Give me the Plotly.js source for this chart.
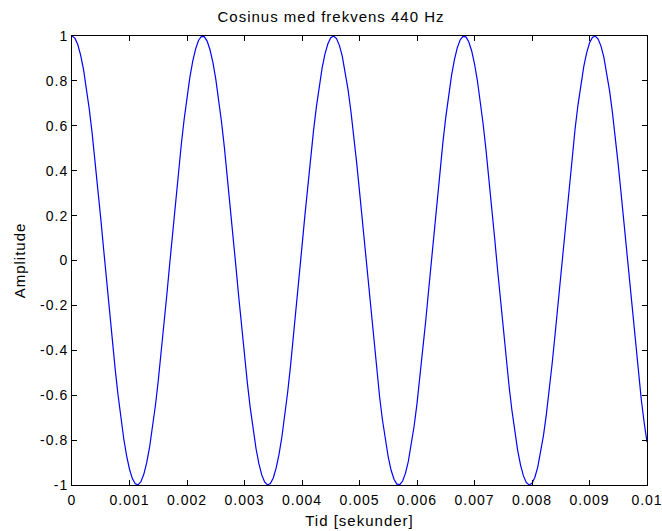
<!DOCTYPE html>
<html>
<head>
<meta charset="utf-8">
<script src="https://cdn.plot.ly/plotly-3.0.1.min.js"></script>
<style>
html,body{margin:0;padding:0;background:#fff;}
#chart{width:662px;height:531px;}
#chart text{letter-spacing:1px;}
</style>
</head>
<body>
<div id="chart"></div>
<script>
// Time samples (seconds), every 0.00005 s
const timeSec = [
0.00000,0.00005,0.00010,0.00015,0.00020,0.00025,0.00030,0.00035,0.00040,0.00045,
0.00050,0.00055,0.00060,0.00065,0.00070,0.00075,0.00080,0.00085,0.00090,0.00095,
0.00100,0.00105,0.00110,0.00115,0.00120,0.00125,0.00130,0.00135,0.00140,0.00145,
0.00150,0.00155,0.00160,0.00165,0.00170,0.00175,0.00180,0.00185,0.00190,0.00195,
0.00200,0.00205,0.00210,0.00215,0.00220,0.00225,0.00230,0.00235,0.00240,0.00245,
0.00250,0.00255,0.00260,0.00265,0.00270,0.00275,0.00280,0.00285,0.00290,0.00295,
0.00300,0.00305,0.00310,0.00315,0.00320,0.00325,0.00330,0.00335,0.00340,0.00345,
0.00350,0.00355,0.00360,0.00365,0.00370,0.00375,0.00380,0.00385,0.00390,0.00395,
0.00400,0.00405,0.00410,0.00415,0.00420,0.00425,0.00430,0.00435,0.00440,0.00445,
0.00450,0.00455,0.00460,0.00465,0.00470,0.00475,0.00480,0.00485,0.00490,0.00495,
0.00500,0.00505,0.00510,0.00515,0.00520,0.00525,0.00530,0.00535,0.00540,0.00545,
0.00550,0.00555,0.00560,0.00565,0.00570,0.00575,0.00580,0.00585,0.00590,0.00595,
0.00600,0.00605,0.00610,0.00615,0.00620,0.00625,0.00630,0.00635,0.00640,0.00645,
0.00650,0.00655,0.00660,0.00665,0.00670,0.00675,0.00680,0.00685,0.00690,0.00695,
0.00700,0.00705,0.00710,0.00715,0.00720,0.00725,0.00730,0.00735,0.00740,0.00745,
0.00750,0.00755,0.00760,0.00765,0.00770,0.00775,0.00780,0.00785,0.00790,0.00795,
0.00800,0.00805,0.00810,0.00815,0.00820,0.00825,0.00830,0.00835,0.00840,0.00845,
0.00850,0.00855,0.00860,0.00865,0.00870,0.00875,0.00880,0.00885,0.00890,0.00895,
0.00900,0.00905,0.00910,0.00915,0.00920,0.00925,0.00930,0.00935,0.00940,0.00945,
0.00950,0.00955,0.00960,0.00965,0.00970,0.00975,0.00980,0.00985,0.00990,0.00995,
0.01000
];
// Amplitude values
const amplitude = [
1.0000,0.9905,0.9620,0.9152,0.8510,0.7705,0.6753,0.5672,0.4484,0.3210,
0.1874,0.0502,-0.0878,-0.2243,-0.3564,-0.4818,-0.5979,-0.7026,-0.7940,-0.8701,
-0.9298,-0.9716,-0.9950,-0.9993,-0.9846,-0.9511,-0.8995,-0.8305,-0.7458,-0.6468,
-0.5358,-0.4144,-0.2850,-0.1502,-0.0126,0.1253,0.2608,0.3914,0.5144,0.6280,
0.7290,0.8166,0.8882,0.9430,0.9799,0.9980,0.9972,0.9773,0.9387,0.8823,
0.8090,0.7203,0.6180,0.5037,0.3798,0.2487,0.1129,-0.0251,-0.1626,-0.2971,
-0.4258,-0.5463,-0.6563,-0.7543,-0.8375,-0.9048,-0.9549,-0.9867,-0.9997,-0.9936,
-0.9686,-0.9250,-0.8639,-0.7862,-0.6936,-0.5878,-0.4707,-0.3446,-0.2120,-0.0753,
0.0628,0.1997,0.3328,0.4597,0.5774,0.6845,0.7786,0.8576,0.9203,0.9654,
0.9921,0.9999,0.9887,0.9585,0.9101,0.8443,0.7623,0.6659,0.5570,0.4371,
0.3090,0.1750,0.0377,-0.1004,-0.2365,-0.3681,-0.4927,-0.6082,-0.7115,-0.8016,
-0.8763,-0.9344,-0.9745,-0.9961,-0.9987,-0.9823,-0.9471,-0.8938,-0.8237,-0.7373,
-0.6374,-0.5251,-0.4029,-0.2730,-0.1378,0.0000,0.1378,0.2730,0.4029,0.5251,
0.6374,0.7373,0.8237,0.8938,0.9471,0.9823,0.9987,0.9961,0.9745,0.9344,
0.8763,0.8016,0.7115,0.6082,0.4927,0.3681,0.2365,0.1004,-0.0377,-0.1750,
-0.3090,-0.4371,-0.5570,-0.6659,-0.7623,-0.8443,-0.9101,-0.9585,-0.9887,-0.9999,
-0.9921,-0.9654,-0.9203,-0.8576,-0.7786,-0.6845,-0.5774,-0.4597,-0.3328,-0.1997,
-0.0628,0.0753,0.2120,0.3446,0.4707,0.5878,0.6936,0.7862,0.8639,0.9250,
0.9686,0.9936,0.9997,0.9867,0.9549,0.9048,0.8375,0.7543,0.6563,0.5463,
0.4258,0.2971,0.1626,0.0251,-0.1129,-0.2487,-0.3798,-0.5037,-0.6180,-0.7203,
-0.8090
];
const xTickVals = [0,0.001,0.002,0.003,0.004,0.005,0.006,0.007,0.008,0.009,0.01];
const xTickText = ["0","0.001","0.002","0.003","0.004","0.005","0.006","0.007","0.008","0.009","0.01"];
const yTickVals = [-1,-0.8,-0.6,-0.4,-0.2,0,0.2,0.4,0.6,0.8,1];
const yTickText = ["-1","-0.8","-0.6","-0.4","-0.2","0","0.2","0.4","0.6","0.8","1"];

const fam = "Liberation Sans, Arial, sans-serif";
const tickFont = {family: fam, size: 14, color: "#000"};
const titleFont = {family: fam, size: 15, color: "#000"};
const axisCommon = {
  showgrid: false, zeroline: false, showline: true, linecolor: "#000", linewidth: 1,
  mirror: "ticks", ticks: "inside", ticklen: 5, tickcolor: "#000", tickwidth: 1,
  tickfont: tickFont, tickmode: "array", automargin: false
};
const trace = {
  x: timeSec, y: amplitude, type: "scatter", mode: "lines",
  line: {color: "#0000ff", width: 1.2, shape: "linear"},
  hoverinfo: "skip"
};
const layout = {
  width: 662, height: 531,
  margin: {l: 72, r: 15, t: 36, b: 46},
  paper_bgcolor: "#fff", plot_bgcolor: "#fff",
  showlegend: false,
  font: tickFont,
  title: {text: "Cosinus med frekvens 440 Hz", font: titleFont,
          x: 0.5, xref: "container", y: 1 - 17/531, yref: "container", yanchor: "middle", xanchor: "center"},
  xaxis: Object.assign({}, axisCommon, {range: [0, 0.01], tickvals: xTickVals, ticktext: xTickText,
          ticklabelstandoff: 2,
          title: {text: "Tid [sekunder]", font: titleFont, standoff: 8}}),
  yaxis: Object.assign({}, axisCommon, {range: [-1, 1], tickvals: yTickVals, ticktext: yTickText,
          title: {text: "Amplitude", font: titleFont, standoff: 14}})
};
Plotly.newPlot("chart", [trace], layout, {staticPlot: true, displayModeBar: false});
</script>
</body>
</html>
